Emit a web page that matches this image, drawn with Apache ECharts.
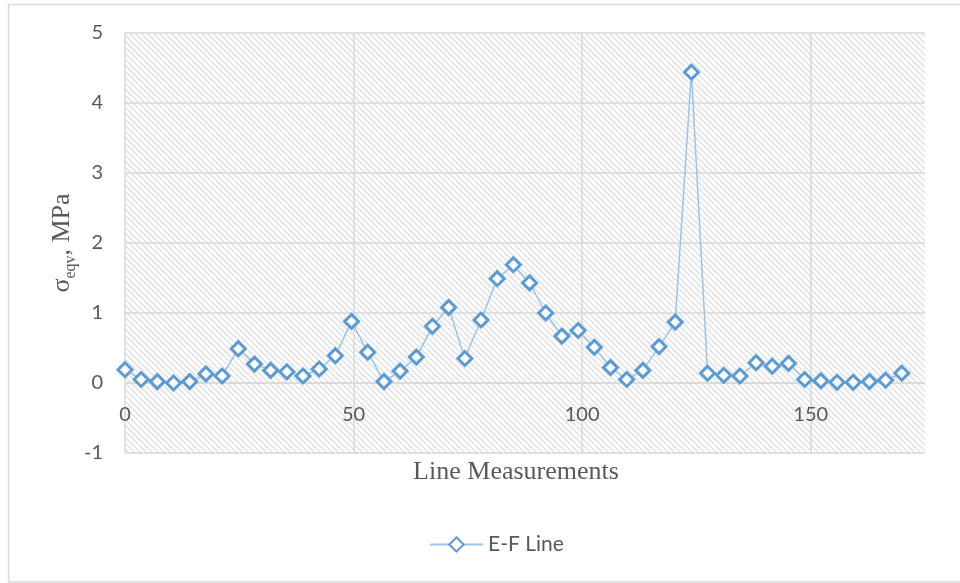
<!DOCTYPE html>
<html>
<head>
<meta charset="utf-8">
<script src="https://cdn.jsdelivr.net/npm/echarts@6/dist/echarts.min.js"></script>
<style>
html,body{margin:0;padding:0;background:#fff;}
#chart{width:960px;height:583px;}
</style>
</head>
<body>
<div id="chart"></div>
<script>
// Data
const seriesName = 'E-F Line';
const xValues = [0, 3.54, 7.08, 10.62, 14.16, 17.7, 21.24, 24.78, 28.32, 31.86, 35.4, 38.94, 42.48, 46.02, 49.56, 53.1, 56.64, 60.18, 63.72, 67.26, 70.8, 74.34, 77.88, 81.42, 84.96, 88.5, 92.04, 95.58, 99.12, 102.66, 106.2, 109.74, 113.28, 116.82, 120.36, 123.9, 127.44, 130.98, 134.52, 138.06, 141.6, 145.14, 148.68, 152.22, 155.76, 159.3, 162.84, 166.38, 169.92];
const yValues = [0.19, 0.05, 0.02, 0.00, 0.02, 0.13, 0.10, 0.49, 0.27, 0.18, 0.16, 0.10, 0.20, 0.39, 0.88, 0.44, 0.02, 0.17, 0.37, 0.81, 1.08, 0.35, 0.90, 1.49, 1.69, 1.43, 1.00, 0.67, 0.75, 0.51, 0.22, 0.05, 0.18, 0.52, 0.87, 4.44, 0.14, 0.11, 0.10, 0.29, 0.24, 0.28, 0.05, 0.03, 0.01, 0.01, 0.02, 0.04, 0.14];
const xTitle = 'Line Measurements';
const yTitleMain = 'σ';
const yTitleSub = 'eqv';
const yTitleRest = ', MPa';

const points = xValues.map((x, i) => [x, yValues[i]]);

// hatch pattern for plot area
const T = 6;
const tile = document.createElement('canvas');
tile.width = T; tile.height = T;
const tctx = tile.getContext('2d');
tctx.fillStyle = '#ffffff';
tctx.fillRect(0, 0, T, T);
tctx.strokeStyle = '#e0e0e0';
tctx.lineWidth = 1.4;
tctx.beginPath();
tctx.moveTo(-2, -2); tctx.lineTo(T + 2, T + 2);
tctx.moveTo(-T - 2, -2); tctx.lineTo(2, T + 2);
tctx.moveTo(T - 2, -2); tctx.lineTo(2 * T + 2, T + 2);
tctx.stroke();

const gridColor = '#d9d9d9';
const textColor = '#595959';
const sans = 'Lato, "Open Sans", sans-serif';
const serif = '"Liberation Serif", "DejaVu Serif", serif';

const chart = echarts.init(document.getElementById('chart'), null, {renderer: 'canvas'});
chart.setOption({
  animation: false,
  grid: {
    left: 125, right: 35, top: 33, bottom: 130,
    show: true,
    backgroundColor: {image: tile, repeat: 'repeat'},
    borderWidth: 0
  },
  xAxis: {
    type: 'value', min: 0, max: 175, interval: 50,
    offset: -70,
    axisLine: {show: true, onZero: false, lineStyle: {color: gridColor, width: 1.5}},
    axisTick: {show: false},
    axisLabel: {color: textColor, fontFamily: sans, fontSize: 20, margin: 22, showMaxLabel: false},
    splitLine: {show: true, showMaxLine: false, lineStyle: {color: gridColor, width: 1.5}}
  },
  yAxis: {
    type: 'value', min: -1, max: 5, interval: 1,
    axisLine: {show: false},
    axisTick: {show: false},
    axisLabel: {color: textColor, fontFamily: sans, fontSize: 20, margin: 22},
    splitLine: {show: true, lineStyle: {color: gridColor, width: 1.5}}
  },
  legend: {
    left: 424, top: 529,
    itemWidth: 53, itemHeight: 18,
    textStyle: {color: textColor, fontFamily: sans, fontSize: 21},
    data: [seriesName]
  },
  series: [{
    name: seriesName,
    type: 'line',
    data: points,
    symbol: 'diamond',
    symbolSize: 14,
    showAllSymbol: true,
    lineStyle: {color: '#9dc3e6', width: 1.5},
    itemStyle: {color: '#ffffff', borderColor: '#5b9bd5', borderWidth: 3}
  }],
  graphic: [
    {
      type: 'rect', silent: true, z: -10,
      shape: {x: 8.5, y: 4.5, width: 960, height: 577.5},
      style: {fill: 'none', stroke: '#d9d9d9', lineWidth: 1.5}
    },
    {
      type: 'text', silent: true,
      x: 516, y: 472,
      style: {
        text: xTitle, fill: textColor, font: '26px ' + serif,
        textAlign: 'center', textVerticalAlign: 'middle'
      }
    },
    {
      type: 'text', silent: true,
      x: 62, y: 243, rotation: Math.PI / 2,
      style: {
        text: '{a|' + yTitleMain + '}{b|' + yTitleSub + '}{a|' + yTitleRest + '}',
        align: 'center', verticalAlign: 'middle',
        textAlign: 'center', textVerticalAlign: 'middle',
        rich: {
          a: {fontSize: 26, fontFamily: serif, fill: textColor, color: textColor, lineHeight: 34},
          b: {fontSize: 16, fontFamily: serif, fill: textColor, color: textColor, lineHeight: 16, verticalAlign: 'bottom'}
        }
      }
    }
  ]
});
</script>
</body>
</html>
